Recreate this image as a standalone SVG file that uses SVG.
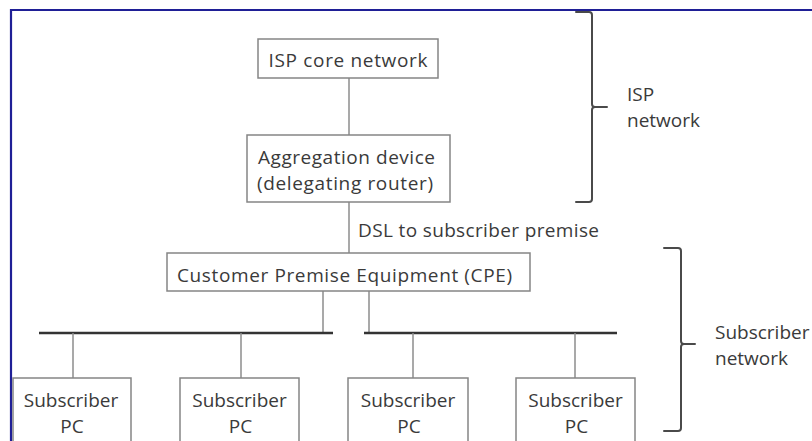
<svg xmlns="http://www.w3.org/2000/svg" width="812" height="441" viewBox="0 0 812 441">
  <style>
    .box { fill: #ffffff; stroke: #858585; stroke-width: 1.5; }
    .link { stroke: #8c8c8c; stroke-width: 1.5; fill: none; }
    .bus { stroke: #333333; stroke-width: 2.5; fill: none; }
    .brace { stroke: #4a4a4a; stroke-width: 2; fill: none; stroke-linejoin: round; stroke-linecap: round; }
    .lbl { font-family: "Open Sans", "Noto Sans", "Liberation Sans", sans-serif; font-size: 19px; fill: #3a3a3a; }
    .mid { text-anchor: middle; }
  </style>

  <rect x="0" y="0" width="812" height="441" fill="#ffffff"/>
  <!-- page frame (top and left edges) -->
  <path d="M11,441 V10 H812" fill="none" stroke="#1f1f96" stroke-width="2.2"/>

  <!-- connectors -->
  <g id="connectors">
    <line class="link" x1="349" y1="78" x2="349" y2="135"/>
    <line class="link" x1="349" y1="202" x2="349" y2="253"/>
    <line class="link" x1="323" y1="291" x2="323" y2="333"/>
    <line class="link" x1="369" y1="291" x2="369" y2="333"/>
    <line class="bus" x1="39" y1="333" x2="333" y2="333"/>
    <line class="bus" x1="364" y1="333" x2="617" y2="333"/>
    <line class="link" x1="73" y1="333" x2="73" y2="378"/>
    <line class="link" x1="241" y1="333" x2="241" y2="378"/>
    <line class="link" x1="413" y1="333" x2="413" y2="378"/>
    <line class="link" x1="575" y1="333" x2="575" y2="378"/>
    <text class="lbl" x="358" y="237" textLength="241">DSL to subscriber premise</text>
  </g>

  <g id="isp-core">
    <rect class="box" x="258" y="39" width="180" height="39"/>
    <text class="lbl mid" x="348" y="67" textLength="159">ISP core network</text>
  </g>

  <g id="aggregation">
    <rect class="box" x="247" y="135" width="203" height="67"/>
    <text class="lbl mid" x="346.5" y="164" textLength="177">Aggregation device</text>
    <text class="lbl mid" x="345" y="190" textLength="176">(delegating router)</text>
  </g>

  <g id="cpe">
    <rect class="box" x="167" y="253" width="363" height="38"/>
    <text class="lbl mid" x="344.5" y="282" textLength="335">Customer Premise Equipment (CPE)</text>
  </g>

  <g id="pc1">
    <rect class="box" x="13" y="378" width="118" height="80"/>
    <text class="lbl mid" x="71" y="407">Subscriber</text>
    <text class="lbl mid" x="72" y="433">PC</text>
  </g>
  <g id="pc2">
    <rect class="box" x="180" y="378" width="119" height="80"/>
    <text class="lbl mid" x="239.5" y="407">Subscriber</text>
    <text class="lbl mid" x="240.5" y="433">PC</text>
  </g>
  <g id="pc3">
    <rect class="box" x="348" y="378" width="120" height="80"/>
    <text class="lbl mid" x="408" y="407">Subscriber</text>
    <text class="lbl mid" x="409" y="433">PC</text>
  </g>
  <g id="pc4">
    <rect class="box" x="516" y="378" width="119" height="80"/>
    <text class="lbl mid" x="575.5" y="407">Subscriber</text>
    <text class="lbl mid" x="576.5" y="433">PC</text>
  </g>

  <g id="isp-brace">
    <path class="brace" d="M576,12 H589 Q592,12 592,15 V104 Q592,107 595,107 Q592,107 592,110 V199 Q592,202 589,202 H576 M595,107 H607"/>
    <text class="lbl" x="627" y="101">ISP</text>
    <text class="lbl" x="627" y="127">network</text>
  </g>

  <g id="subscriber-brace">
    <path class="brace" d="M664,248 H678 Q681,248 681,251 V341 Q681,344 684,344 Q681,344 681,347 V428 Q681,431 678,431 H664 M684,344 H695"/>
    <text class="lbl" x="715" y="339">Subscriber</text>
    <text class="lbl" x="715" y="365">network</text>
  </g>
</svg>
